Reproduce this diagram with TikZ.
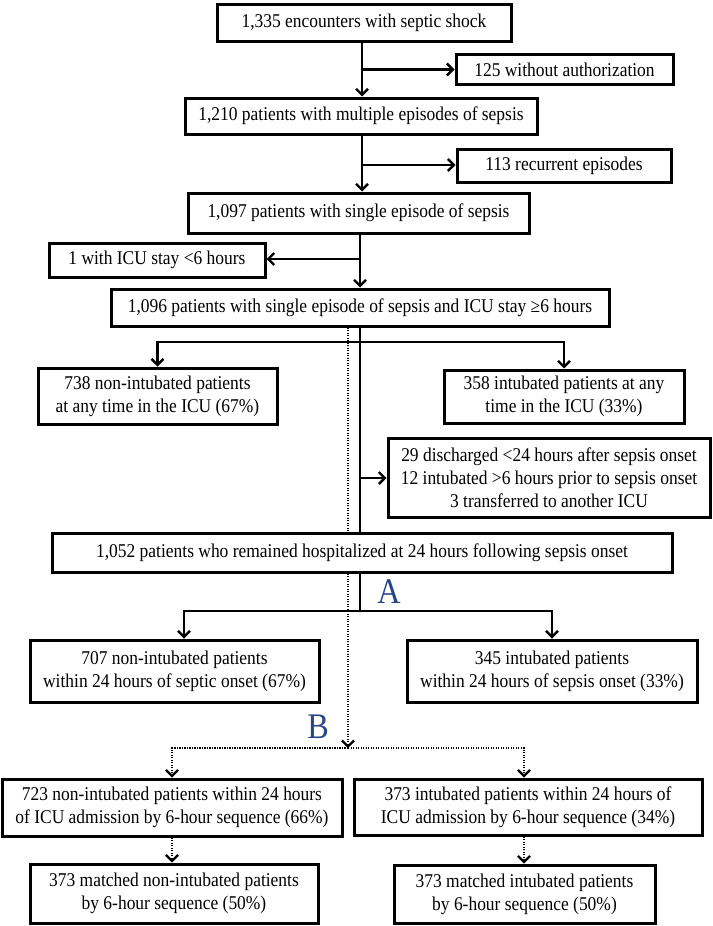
\documentclass[tikz,border=0pt]{standalone}
\usepackage{fontspec}
\setmainfont[FakeStretch=0.895]{Liberation Serif}
\usetikzlibrary{arrows.meta}
\definecolor{labblue}{RGB}{40,70,135}
\begin{document}
\begin{tikzpicture}[x=1pt,y=-1pt,
  box/.style={draw=black,line width=3pt,fill=white,inner sep=0pt,align=center,font=\fontsize{19.5}{23}\selectfont},
  conn/.style={line width=2.6pt,-{Straight Barb[length=6pt,width=12pt,line width=2.4pt]}},
  plain/.style={line width=2.6pt},
  dot/.style={line width=2.2pt,dash pattern=on 1.3pt off 1.2pt},
  dotarr/.style={dot,-{Straight Barb[length=6pt,width=12pt,line width=2.2pt]}},
  lab/.style={text=labblue,inner sep=0pt,font=\fontsize{36}{36}\selectfont}
]
\useasboundingbox (0,0) rectangle (712,926);

\node[box,minimum width=294pt,minimum height=37pt] (b1) at (364,22.5) {1,335 encounters with septic shock};
\node[box,minimum width=217pt,minimum height=30pt] (b125) at (564.5,69.5) {125 without authorization};
\node[box,minimum width=352pt,minimum height=36pt] (b2) at (361,116) {1,210 patients with multiple episodes of sepsis};
\node[box,minimum width=214pt,minimum height=33pt] (b113) at (564,165.5) {113 recurrent episodes};
\node[box,minimum width=341pt,minimum height=40pt] (b3) at (358.5,213) {1,097 patients with single episode of sepsis};
\node[box,minimum width=216pt,minimum height=34pt] (bICU) at (157,260) {1 with ICU stay <6 hours};
\node[box,minimum width=498pt,minimum height=37pt] (b4) at (360,307.5) {1,096 patients with single episode of sepsis and ICU stay ≥6 hours};
\node[box,minimum width=239pt,minimum height=56pt] (b738) at (157.5,396) {738 non-intubated patients\\at any time in the ICU (67\%)};
\node[box,minimum width=240pt,minimum height=53pt] (b358) at (564,396.5) {358 intubated patients at any\\time in the ICU (33\%)};
\node[box,minimum width=322pt,minimum height=79pt] (b29) at (549,477.5) {29 discharged <24 hours after sepsis onset\\12 intubated >6 hours prior to sepsis onset\\3 transferred to another ICU};
\node[box,minimum width=620pt,minimum height=39pt] (b1052) at (362,552.5) {1,052 patients who remained hospitalized at 24 hours following sepsis onset};
\node[box,minimum width=289pt,minimum height=62pt] (b707) at (174.5,671) {707 non-intubated patients\\within 24 hours of septic onset (67\%)};
\node[box,minimum width=290pt,minimum height=62pt] (b345) at (552,671) {345 intubated patients\\within 24 hours of sepsis onset (33\%)};
\node[box,minimum width=340pt,minimum height=57pt] (b723) at (172,807.5) {723 non-intubated patients within 24 hours\\of ICU admission by 6-hour sequence (66\%)};
\node[box,minimum width=348pt,minimum height=56pt] (b373R) at (528,807) {373 intubated patients within 24 hours of\\ICU admission by 6-hour sequence (34\%)};
\node[box,minimum width=288pt,minimum height=59pt] (b373L) at (174,893.5) {373 matched non-intubated patients\\by 6-hour sequence (50\%)};
\node[box,minimum width=261pt,minimum height=58pt] (b373RM) at (524.5,894) {373 matched intubated patients\\by 6-hour sequence (50\%)};

\node[lab] (A) at (389,592) {A};
\node[lab] (B) at (318,727) {B};

\coordinate (sp1) at (362,0);
\coordinate (sp2) at (360,0);
\coordinate (dx) at (348,0);
\coordinate (j1) at (362,69.5);
\coordinate (j2) at (362,165);
\coordinate (j3) at (360,259);
\coordinate (j4) at (360,342);
\coordinate (j5) at (360,478);
\coordinate (j6) at (360,611);
\coordinate (jB) at (348,748);
\coordinate (xl2) at (184,0);
\coordinate (xr3) at (524,0);

\draw[conn] (b1.south -| sp1) -- (b2.north -| sp1);
\draw[conn] (j1) -- (j1 -| b125.west);
\draw[conn] (b2.south -| sp1) -- (b3.north -| sp1);
\draw[conn] (j2) -- (j2 -| b113.west);
\draw[conn] (b3.south -| sp2) -- (b4.north -| sp2);
\draw[conn] (j3) -- (j3 -| bICU.east);
\draw[plain] (b4.south -| sp2) -- (b1052.north -| sp2);
\draw[conn] (j4) -| (b738.north);
\draw[conn] (j4) -| (b358.north);
\draw[conn] (j5) -- (j5 -| b29.west);
\draw[plain] (b1052.south -| sp2) -- (j6);
\draw[conn] (j6) -| (b707.north -| xl2);
\draw[conn] (j6) -| (b345.north);

\draw[dot] (b4.south -| dx) -- (b1052.north -| dx);
\draw[dotarr] (b1052.south -| dx) -- (jB);
\draw[dotarr] (jB) -| (b723.north);
\draw[dotarr] (jB) -| (b373R.north -| xr3);
\draw[dotarr] (b723.south) -- (b723.south |- b373L.north);
\draw[dotarr] (b373R.south -| xr3) -- (b373RM.north -| xr3);
\end{tikzpicture}
\end{document}
